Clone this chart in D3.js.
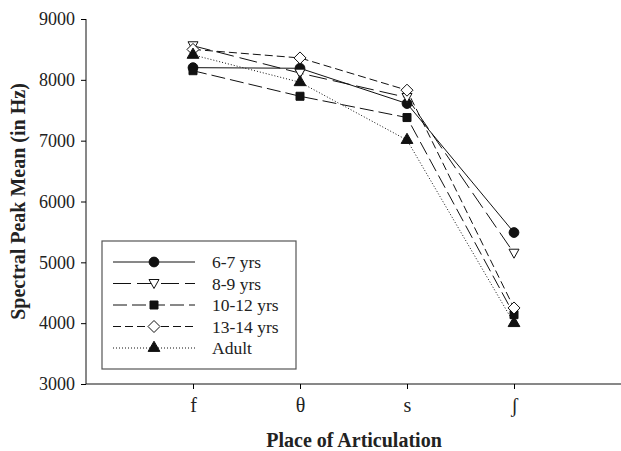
<!DOCTYPE html>
<html>
<head>
<meta charset="utf-8">
<script src="https://cdn.jsdelivr.net/npm/d3@7"></script>
<style>
  body { margin: 0; background: #fff; }
  svg text { font-family: "Liberation Serif", "DejaVu Serif", serif; fill: #222; }
</style>
</head>
<body>
<div id="chart"></div>
<script>
(function () {
  var categories = ['f', 'θ', 's', 'ʃ'];
  var seriesNames = ['6-7 yrs', '8-9 yrs', '10-12 yrs', '13-14 yrs', 'Adult'];
  var age67 = [8200, 8190, 7610, 5490];
  var age89 = [8560, 8110, 7710, 5150];
  var age1012 = [8150, 7730, 7380, 4140];
  var age1314 = [8500, 8360, 7830, 4250];
  var adult = [8410, 7960, 7010, 4000];
  var yTicks = [3000, 4000, 5000, 6000, 7000, 8000, 9000];

  var width = 621, height = 451;
  var margin = {top: 19, right: 0, bottom: 67, left: 86};
  var innerW = width - margin.left - margin.right;
  var innerH = height - margin.top - margin.bottom;

  var svg = d3.select('#chart').append('svg')
        .attr('width', width)
        .attr('height', height);

  var g = svg.append('g')
        .attr('transform', 'translate(' + margin.left + ',' + margin.top + ')');

  var x = d3.scaleLinear().domain([0, 5]).range([0, innerW]);
  var y = d3.scaleLinear().domain([3000, 9000]).range([innerH, 0]);

  // styles per series
  var dashes = ['none', '18,6', '14,5', '8,4', '1,2'];
  var symbols = [d3.symbolCircle, 'tri-down', d3.symbolSquare, 'diamond', d3.symbolTriangle];
  var fills = ['#111', '#fff', '#111', '#fff', '#111'];
  var allValues = [age67, age89, age1012, age1314, adult];

  function markerPath(k) {
    var s = symbols[k];
    if (s === 'tri-down') return 'M-5,-4L5,-4L0,5Z';
    if (s === 'diamond') return 'M0,-6L6,0L0,6L-6,0Z';
    if (s === d3.symbolCircle) return d3.symbol(s, 75)();
    if (s === d3.symbolSquare) return d3.symbol(s, 64)();
    return d3.symbol(s, 60)();
  }

  // axes
  var yAxis = d3.axisLeft(y).tickValues(yTicks).tickSize(5).tickPadding(6).tickFormat(d3.format('d'));
  var yG = g.append('g').call(yAxis);
  yG.select('.domain').attr('d', 'M0,' + innerH + 'V0').attr('stroke', '#111');
  yG.selectAll('text').style('font-size', '18px');

  var xAxis = d3.axisBottom(x).tickValues([1, 2, 3, 4])
        .tickFormat(function (d) { return categories[d - 1]; })
        .tickSize(5).tickPadding(9);
  var xG = g.append('g').attr('transform', 'translate(0,' + innerH + ')').call(xAxis);
  xG.select('.domain').attr('d', 'M0,0H' + innerW).attr('stroke', '#111');
  xG.selectAll('text').style('font-size', '20px');

  var line = d3.line()
        .x(function (d, i) { return x(i + 1); })
        .y(function (d) { return y(d); });

  allValues.forEach(function (vals, k) {
    g.append('path')
      .attr('d', line(vals))
      .attr('fill', 'none')
      .attr('stroke', '#111')
      .attr('stroke-width', 1)
      .attr('stroke-dasharray', dashes[k]);
  });

  // markers drawn after lines
  allValues.forEach(function (vals, k) {
    g.selectAll('.m' + k)
      .data(vals)
      .enter()
      .append('path')
      .attr('class', 'm' + k)
      .attr('d', markerPath(k))
      .attr('transform', function (d, i) { return 'translate(' + x(i + 1) + ',' + y(d) + ')'; })
      .attr('fill', fills[k])
      .attr('stroke', '#111')
      .attr('stroke-width', 1);
  });

  // axis titles
  svg.append('text')
    .attr('transform', 'translate(25,' + (margin.top + innerH / 2) + ') rotate(-90)')
    .attr('text-anchor', 'middle')
    .style('font-size', '20px')
    .style('font-weight', 'bold')
    .text('Spectral Peak Mean (in Hz)');

  svg.append('text')
    .attr('x', 354)
    .attr('y', 447)
    .attr('text-anchor', 'middle')
    .style('font-size', '20px')
    .style('font-weight', 'bold')
    .text('Place of Articulation');

  // legend
  var legend = svg.append('g').attr('transform', 'translate(102,241)');
  legend.append('rect')
    .attr('width', 194)
    .attr('height', 128)
    .attr('fill', '#fff')
    .attr('stroke', '#555')
    .attr('stroke-width', 1.2);

  seriesNames.forEach(function (name, k) {
    var ly = 21 + k * 21.5;
    legend.append('line')
      .attr('x1', 11).attr('x2', 93)
      .attr('y1', ly).attr('y2', ly)
      .attr('stroke', '#111')
      .attr('stroke-width', 1)
      .attr('stroke-dasharray', dashes[k]);
    legend.append('path')
      .attr('d', markerPath(k))
      .attr('transform', 'translate(52,' + ly + ')')
      .attr('fill', fills[k])
      .attr('stroke', '#111');
    legend.append('text')
      .attr('x', 110)
      .attr('y', ly + 6)
      .style('font-size', '17.5px')
      .text(name);
  });
})();
</script>
</body>
</html>
